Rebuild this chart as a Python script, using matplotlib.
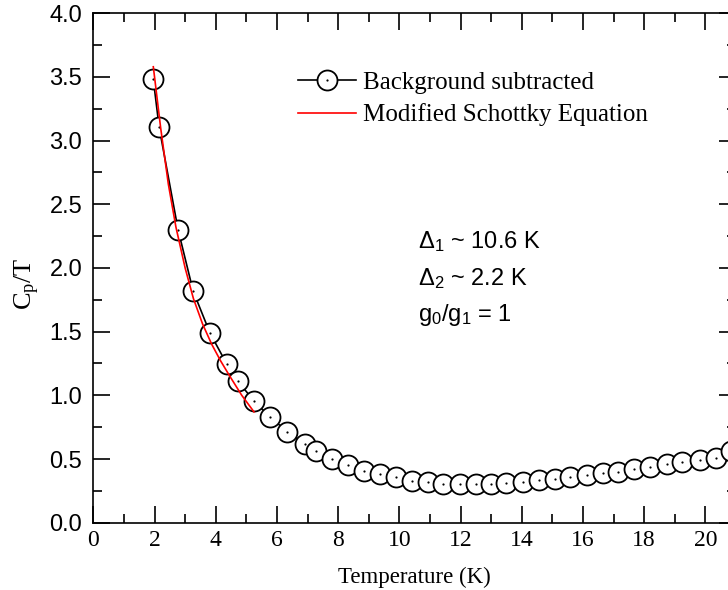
import matplotlib
matplotlib.use('Agg')
import matplotlib.pyplot as plt
from matplotlib.lines import Line2D
from matplotlib.legend_handler import HandlerTuple
from matplotlib.ticker import MultipleLocator

plt.rcParams['mathtext.fontset'] = 'custom'
plt.rcParams['mathtext.rm'] = 'Liberation Serif'
plt.rcParams['mathtext.it'] = 'Liberation Serif:italic'
plt.rcParams['mathtext.sf'] = 'Liberation Sans'

# measured data (background subtracted)
temp = [1.96, 2.15, 2.77, 3.26, 3.81, 4.36, 4.72, 5.24, 5.78, 6.34, 6.91, 7.27,
        7.80, 8.33, 8.84, 9.37, 9.88, 10.40, 10.92, 11.43, 11.97, 12.49, 13.01,
        13.50, 14.04, 14.57, 15.07, 15.59, 16.12, 16.64, 17.15, 17.67, 18.18,
        18.73, 19.22, 19.81, 20.33, 20.83]
cp_t = [3.48, 3.105, 2.30, 1.82, 1.49, 1.246, 1.113, 0.958, 0.828, 0.715, 0.618,
        0.565, 0.503, 0.455, 0.408, 0.380, 0.355, 0.330, 0.317, 0.306, 0.302,
        0.302, 0.306, 0.309, 0.320, 0.333, 0.343, 0.361, 0.377, 0.388, 0.400,
        0.422, 0.437, 0.459, 0.474, 0.495, 0.510, 0.560]

# Schottky fit curve
fit_t = [1.96, 2.2, 2.45, 2.7, 3.0, 3.27, 3.57, 3.87, 4.16, 4.46, 4.85, 5.25]
fit_y = [3.58, 3.10, 2.66, 2.32, 2.00, 1.76, 1.56, 1.40, 1.27, 1.15, 1.00, 0.87]

fig = plt.figure(figsize=(7.28, 5.9), dpi=100)
ax = fig.add_axes([0.1282, 0.1141, 0.8828, 0.8634])

ax.plot(temp, cp_t, color='black', lw=1.2, zorder=2)
ax.plot(temp, cp_t, ls='none', marker='o', ms=14.4, mfc='white', mec='black',
        mew=1.3, zorder=3)
ax.plot(temp, cp_t, ls='none', marker='o', ms=1.6, mfc='black', mec='black',
        mew=0, zorder=4)
ax.plot(fit_t, fit_y, color='red', lw=1.2, zorder=5)

ax.set_xlim(0, 21)
ax.set_ylim(0, 4.0)
ax.xaxis.set_major_locator(MultipleLocator(2))
ax.xaxis.set_minor_locator(MultipleLocator(1))
ax.yaxis.set_major_locator(MultipleLocator(0.5))
ax.yaxis.set_minor_locator(MultipleLocator(0.25))
ax.yaxis.set_major_formatter(matplotlib.ticker.FormatStrFormatter('%.1f'))

ax.tick_params(which='both', direction='in', top=True, right=True, width=1.2)
ax.tick_params(which='major', length=12)
ax.tick_params(which='minor', length=6.5)
ax.tick_params(axis='x', pad=5)
ax.tick_params(axis='y', pad=8)
for sp in ax.spines.values():
    sp.set_linewidth(1.2)

for lab in ax.get_xticklabels():
    lab.set_fontfamily('Liberation Serif')
    lab.set_fontsize(17)
for lab in ax.get_yticklabels():
    lab.set_fontfamily('Liberation Sans')
    lab.set_fontsize(17)

ax.set_xlabel('Temperature (K)', family='Liberation Serif', fontsize=16.5, labelpad=12)
ax.set_ylabel(r'$\mathrm{C_p/T}$', fontsize=19, va='center')
ax.yaxis.set_label_coords(-0.103, 0.47)

h1 = (Line2D([], [], color='black', lw=1.2, marker='o', ms=14.4, mfc='white',
             mec='black', mew=1.3),
      Line2D([], [], ls='none', marker='o', ms=1.6, mfc='black', mew=0))
h2 = Line2D([], [], color='red', lw=1.2)
ax.legend([h1, h2], ['Background subtracted', 'Modified Schottky Equation'],
          handler_map={tuple: HandlerTuple(ndivide=1)},
          loc='upper left', bbox_to_anchor=(298 / 728, 1 - 71 / 590),
          bbox_transform=fig.transFigure, frameon=False, borderpad=0,
          borderaxespad=0, handlelength=2.3, handletextpad=0.3,
          labelspacing=0.4, prop={'family': 'Liberation Serif', 'size': 18})

txt = dict(family='Liberation Sans', fontsize=17, transform=fig.transFigure,
           va='center', ha='left')
fig.text(418 / 728, 1 - 242 / 590, r'$\mathsf{\Delta_1}$ ~ 10.6 K', **txt)
fig.text(418 / 728, 1 - 279 / 590, r'$\mathsf{\Delta_2}$ ~ 2.2 K', **txt)
fig.text(418 / 728, 1 - 315 / 590, r'$\mathsf{g_0/g_1}$ = 1', **txt)

fig.savefig('out.png', dpi=100)
